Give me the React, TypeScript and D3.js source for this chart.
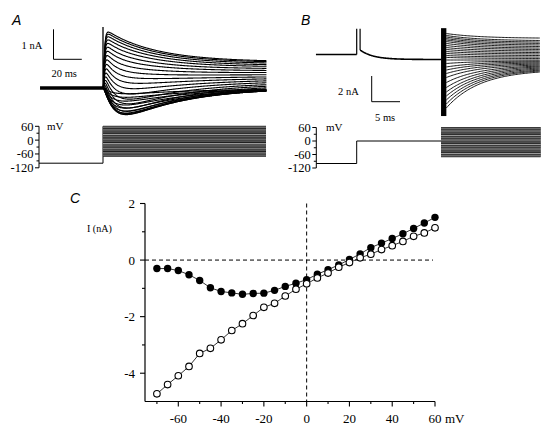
import React from 'react';
import * as d3 from 'd3';

// ---------- Panel C: I-V data ----------
const ivVoltages = [-70, -65, -60, -55, -50, -45, -40, -35, -30, -25, -20, -15, -10, -5, 0, 5, 10, 15, 20, 25, 30, 35, 40, 45, 50, 55, 60];
const ivFilled = [-0.30, -0.30, -0.37, -0.52, -0.72, -0.98, -1.11, -1.16, -1.21, -1.18, -1.17, -1.07, -0.93, -0.82, -0.69, -0.50, -0.34, -0.17, 0.02, 0.22, 0.44, 0.60, 0.76, 0.93, 1.12, 1.31, 1.51];
const ivOpen = [-4.73, -4.40, -4.09, -3.76, -3.30, -3.12, -2.82, -2.49, -2.25, -1.96, -1.67, -1.53, -1.27, -1.03, -0.84, -0.63, -0.46, -0.25, -0.09, 0.08, 0.21, 0.37, 0.51, 0.66, 0.84, 0.96, 1.14];
const cXTicks = [-60, -40, -20, 0, 20, 40, 60];
const cXMinor = [-70, -50, -30, -10, 10, 30, 50];
const cYTicks = [2, 0, -2, -4];
const cYMinor = [1, -1, -3];

// ---------- Panel A: current traces (nA), one per test potential -70..60 mV ----------
const aOutPeak = [0, 0, 0, 0, 0.02, 0.05, 0.08, 0.12, 0.17, 0.23, 0.30, 0.38, 0.47, 0.57, 0.68, 0.80, 0.92, 1.05, 1.18, 1.30, 1.42, 1.54, 1.65, 1.75, 1.85, 1.93, 2.00];
const aOutEnd = [-0.03, -0.03, -0.02, -0.02, -0.01, 0, 0.01, 0.02, 0.04, 0.06, 0.09, 0.12, 0.16, 0.20, 0.25, 0.30, 0.35, 0.40, 0.46, 0.52, 0.58, 0.64, 0.70, 0.75, 0.80, 0.84, 0.87];
const aInward = [0.18, 0.30, 0.43, 0.56, 0.68, 0.80, 0.89, 0.96, 1.01, 1.02, 1.00, 0.95, 0.88, 0.80, 0.71, 0.62, 0.52, 0.43, 0.35, 0.27, 0.20, 0.15, 0.10, 0.06, 0.04, 0.02, 0.01];

// ---------- Panel B: tail currents (nA) at start and end of the tail step ----------
const bTailStart = [-3.77, -3.46, -3.15, -2.84, -2.53, -2.18, -1.79, -1.40, -1.09, -0.82, -0.58, -0.31, -0.04, 0.16, 0.31, 0.47, 0.62, 0.78, 0.93, 1.09, 1.25, 1.40, 1.52, 1.63, 1.75, 1.87, 2.02];
const bTailEnd = [-0.97, -0.89, -0.82, -0.74, -0.66, -0.58, -0.51, -0.43, -0.35, -0.27, -0.19, -0.12, -0.04, 0.08, 0.19, 0.31, 0.43, 0.54, 0.66, 0.78, 0.89, 1.01, 1.13, 1.25, 1.36, 1.48, 1.67];
const bHoldCurrent = 0.39;
const bStepPeak = 0.74;
const bClip = 2.4;

// Voltage protocol
const vTicks = [60, 0, -60, -120];
const vMinor = [30, -30, -90];
const holdV = -100;
const prepulseV = 0;

const serif = "'Liberation Serif', 'Times New Roman', serif";
const sans = "'Liberation Sans', Arial, sans-serif";
const blockGrays = ['#2a2a2a', '#6a6a6a', '#3a3a3a', '#9a9a9a', '#202020', '#555555', '#444444', '#888888'];

// ---------- scales ----------
const vScaleA = d3.scaleLinear().domain([-120, 60]).range([167.8, 126.3]);
const vScaleB = d3.scaleLinear().domain([-120, 60]).range([168, 127.5]);

const tA = d3.scaleLinear().domain([0, 20]).range([103, 131.3]);
const iA = d3.scaleLinear().domain([0, 1]).range([88, 58]);

const tB = d3.scaleLinear().domain([0, 5]).range([356.7, 385]);
const iB = d3.scaleLinear().domain([0, 2]).range([59.5, 33.8]);

const xC = d3.scaleLinear().domain([-60, 60]).range([178.3, 435]);
const yC = d3.scaleLinear().domain([-5, 2]).range([401.5, 203.5]);

function aCurrent(i: number, t: number): number {
  const rise = 1 - Math.exp(-t / 0.8);
  const out = (aOutEnd[i] + (aOutPeak[i] - aOutEnd[i]) * Math.exp(-t / 35)) * rise;
  const shape = (Math.exp(-t / 45) - Math.exp(-t / 7)) / 0.599;
  return out - aInward[i] * shape;
}

function toPath(pts: [number, number][]): string {
  return pts.map((p, k) => (k === 0 ? 'M' : 'L') + p[0].toFixed(2) + ',' + p[1].toFixed(2)).join('');
}

function VAxis({ x, scale, label, labelX }: { x: number; scale: any; label: string; labelX: number }) {
  return (
    <g>
      <line x1={x} x2={x} y1={scale(60)} y2={scale(-120)} stroke="#000" strokeWidth={1} />
      {vTicks.map((v) => (
        <g key={v}>
          <line x1={x - 4} x2={x} y1={scale(v)} y2={scale(v)} stroke="#000" strokeWidth={1} />
          <text x={x - 5.5} y={scale(v)} dy="0.35em" textAnchor="end" fontFamily={serif} fontSize={12.5}>
            {v}
          </text>
        </g>
      ))}
      {vMinor.map((v) => (
        <line key={v} x1={x - 2.5} x2={x} y1={scale(v)} y2={scale(v)} stroke="#000" strokeWidth={1} />
      ))}
      <text x={labelX} y={scale(60)} dy="0.35em" fontFamily={serif} fontSize={11}>
        {label}
      </text>
    </g>
  );
}

function Block({ x0, x1, scale }: { x0: number; x1: number; scale: any }) {
  return (
    <g>
      <rect x={x0} y={scale(60)} width={x1 - x0} height={scale(-70) - scale(60)} fill="#444" />
      {ivVoltages.map((v, i) => (
        <line key={v} x1={x0} x2={x1} y1={scale(v)} y2={scale(v)} stroke={blockGrays[i % blockGrays.length]} strokeWidth={1.1} />
      ))}
    </g>
  );
}

export default function App() {
  // ----- Panel A traces -----
  const tSamples = d3.range(0, 115.25, 0.4);
  const aPaths = ivVoltages.map((_, i) =>
    toPath(tSamples.map((t) => [tA(t + 0.3), iA(aCurrent(i, t))] as [number, number]))
  );
  const aPeakTop = iA(d3.max(aOutPeak) as number) - 1;

  // ----- Panel B traces -----
  const tailStartT = 15.84;
  const tailEndT = 32.5;
  const T = tailEndT - tailStartT;
  const tau = 6;
  const tailSamples = d3.range(0, T + 0.01, 0.25);
  const bPaths = ivVoltages.map((_, i) =>
    toPath(
      tailSamples.map((s) => {
        const f = (Math.exp(-s / tau) - Math.exp(-T / tau)) / (1 - Math.exp(-T / tau));
        const I = bTailEnd[i] + (bTailStart[i] - bTailEnd[i]) * f;
        return [tB(tailStartT + s), iB(I)] as [number, number];
      })
    )
  );
  const stepSamples = d3.range(0.6, 14.95, 0.1);
  const bStepPath = toPath(stepSamples.map((t) => [tB(t), iB(bStepPeak * Math.exp(-(t - 0.6) / 2.3))] as [number, number]));

  // ----- Panel C -----
  const lineC = d3
    .line<number>()
    .x((_, i) => xC(ivVoltages[i]))
    .y((d) => yC(d));

  const barA = iA(0) - iA(1);
  const axA = 39;

  return (
    <svg width={546} height={427} style={{ position: 'absolute', left: 0, top: 0, background: '#fff' }}>
      <rect x={0} y={0} width={546} height={427} fill="#fff" />

      {/* ================= Panel A ================= */}
      <text x={12} y={25} fontFamily={sans} fontStyle="italic" fontSize={14}>A</text>
      <line x1={53.5} x2={53.5} y1={29.3} y2={29.3 + barA} stroke="#000" strokeWidth={1} />
      <line x1={53.5} x2={53.5 + (tA(20) - tA(0))} y1={29.3 + barA} y2={29.3 + barA} stroke="#000" strokeWidth={1} />
      <text x={21.5} y={48.5} fontFamily={serif} fontSize={10.5}>1 nA</text>
      <text x={51.5} y={77} fontFamily={serif} fontSize={10.5}>20 ms</text>
      <line x1={tA(-44.5)} x2={tA(0)} y1={iA(0)} y2={iA(0)} stroke="#000" strokeWidth={3.5} />
      <line x1={tA(0)} x2={tA(0)} y1={iA(0)} y2={aPeakTop} stroke="#000" strokeWidth={1.3} />
      {aPaths.map((d, i) => (
        <path key={i} d={d} fill="none" stroke="#000" strokeWidth={1.1} />
      ))}

      <VAxis x={axA} scale={vScaleA} label="mV" labelX={47} />
      <path
        d={`M${axA},${vScaleA(holdV)} L${tA(0)},${vScaleA(holdV)} L${tA(0)},${vScaleA(60)}`}
        fill="none"
        stroke="#000"
        strokeWidth={1}
      />
      <Block x0={tA(0)} x1={tA(115.2)} scale={vScaleA} />

      {/* ================= Panel B ================= */}
      <text x={301} y={25} fontFamily={sans} fontStyle="italic" fontSize={14}>B</text>
      <line x1={tB(-7.2)} x2={tB(0)} y1={iB(bHoldCurrent)} y2={iB(bHoldCurrent)} stroke="#000" strokeWidth={1.6} />
      <line x1={tB(0)} x2={tB(0)} y1={iB(bHoldCurrent)} y2={iB(bClip)} stroke="#000" strokeWidth={1.2} />
      <line x1={tB(0.6)} x2={tB(0.6)} y1={iB(bClip)} y2={iB(bStepPeak)} stroke="#000" strokeWidth={1.2} />
      <path d={bStepPath} fill="none" stroke="#000" strokeWidth={1.6} />
      {bPaths.map((d, i) => (
        <path key={i} d={d} fill="none" stroke="#000" strokeWidth={0.9} />
      ))}
      <rect x={tB(14.9)} y={iB(bClip) - 0.5} width={tB(tailStartT) - tB(14.9)} height={iB(-4.4) - iB(bClip) + 0.5} fill="#000" />
      <line x1={371.7} x2={371.7} y1={101.7 - (iB(0) - iB(2))} y2={101.7} stroke="#000" strokeWidth={1} />
      <line x1={371.7} x2={371.7 + (tB(5) - tB(0))} y1={101.7} y2={101.7} stroke="#000" strokeWidth={1} />
      <text x={338} y={95} fontFamily={serif} fontSize={10.5}>2 nA</text>
      <text x={375} y={121} fontFamily={serif} fontSize={10.5}>5 ms</text>

      <VAxis x={316.3} scale={vScaleB} label="mV" labelX={326} />
      <path
        d={`M316.3,${vScaleB(holdV)} L${tB(0)},${vScaleB(holdV)} L${tB(0)},${vScaleB(prepulseV)} L${tB(14.9)},${vScaleB(prepulseV)}`}
        fill="none"
        stroke="#000"
        strokeWidth={1}
      />
      <Block x0={tB(14.9)} x1={tB(tailEndT)} scale={vScaleB} />

      {/* ================= Panel C ================= */}
      <text x={70} y={203} fontFamily={sans} fontStyle="italic" fontSize={14}>C</text>
      <text x={87} y={231.5} fontFamily={serif} fontSize={10}>I (nA)</text>
      <line x1={145} x2={145} y1={yC(2)} y2={yC(-5)} stroke="#000" strokeWidth={1.2} />
      <line x1={145} x2={xC(60)} y1={yC(-5)} y2={yC(-5)} stroke="#000" strokeWidth={1.2} />
      {cYTicks.map((v) => (
        <g key={v}>
          <line x1={140} x2={145} y1={yC(v)} y2={yC(v)} stroke="#000" strokeWidth={1.1} />
          <text x={135} y={yC(v)} dy="0.35em" textAnchor="end" fontFamily={serif} fontSize={13}>
            {v}
          </text>
        </g>
      ))}
      {cYMinor.map((v) => (
        <line key={v} x1={142} x2={145} y1={yC(v)} y2={yC(v)} stroke="#000" strokeWidth={1.1} />
      ))}
      {cXTicks.map((v) => (
        <g key={v}>
          <line x1={xC(v)} x2={xC(v)} y1={yC(-5)} y2={yC(-5) + 5} stroke="#000" strokeWidth={1.1} />
          <text x={xC(v)} y={423} textAnchor="middle" fontFamily={serif} fontSize={13}>
            {v}
          </text>
        </g>
      ))}
      <text x={xC(60) + 10} y={423} fontFamily={serif} fontSize={13}>mV</text>
      {cXMinor.map((v) => (
        <line key={v} x1={xC(v)} x2={xC(v)} y1={yC(-5)} y2={yC(-5) + 2.5} stroke="#000" strokeWidth={1.1} />
      ))}
      <line x1={145} x2={433} y1={yC(0)} y2={yC(0)} stroke="#000" strokeWidth={1} strokeDasharray="4,3" />
      <line x1={xC(0)} x2={xC(0)} y1={yC(2)} y2={yC(-5)} stroke="#000" strokeWidth={1} strokeDasharray="4,3" />
      <path d={lineC(ivFilled) || ''} fill="none" stroke="#000" strokeWidth={0.8} />
      <path d={lineC(ivOpen) || ''} fill="none" stroke="#000" strokeWidth={0.8} />
      {ivFilled.map((v, i) => (
        <circle key={'f' + i} cx={xC(ivVoltages[i])} cy={yC(v)} r={3.7} fill="#000" />
      ))}
      {ivOpen.map((v, i) => (
        <circle key={'o' + i} cx={xC(ivVoltages[i])} cy={yC(v)} r={3.3} fill="#fff" stroke="#000" strokeWidth={1.1} />
      ))}
    </svg>
  );
}
